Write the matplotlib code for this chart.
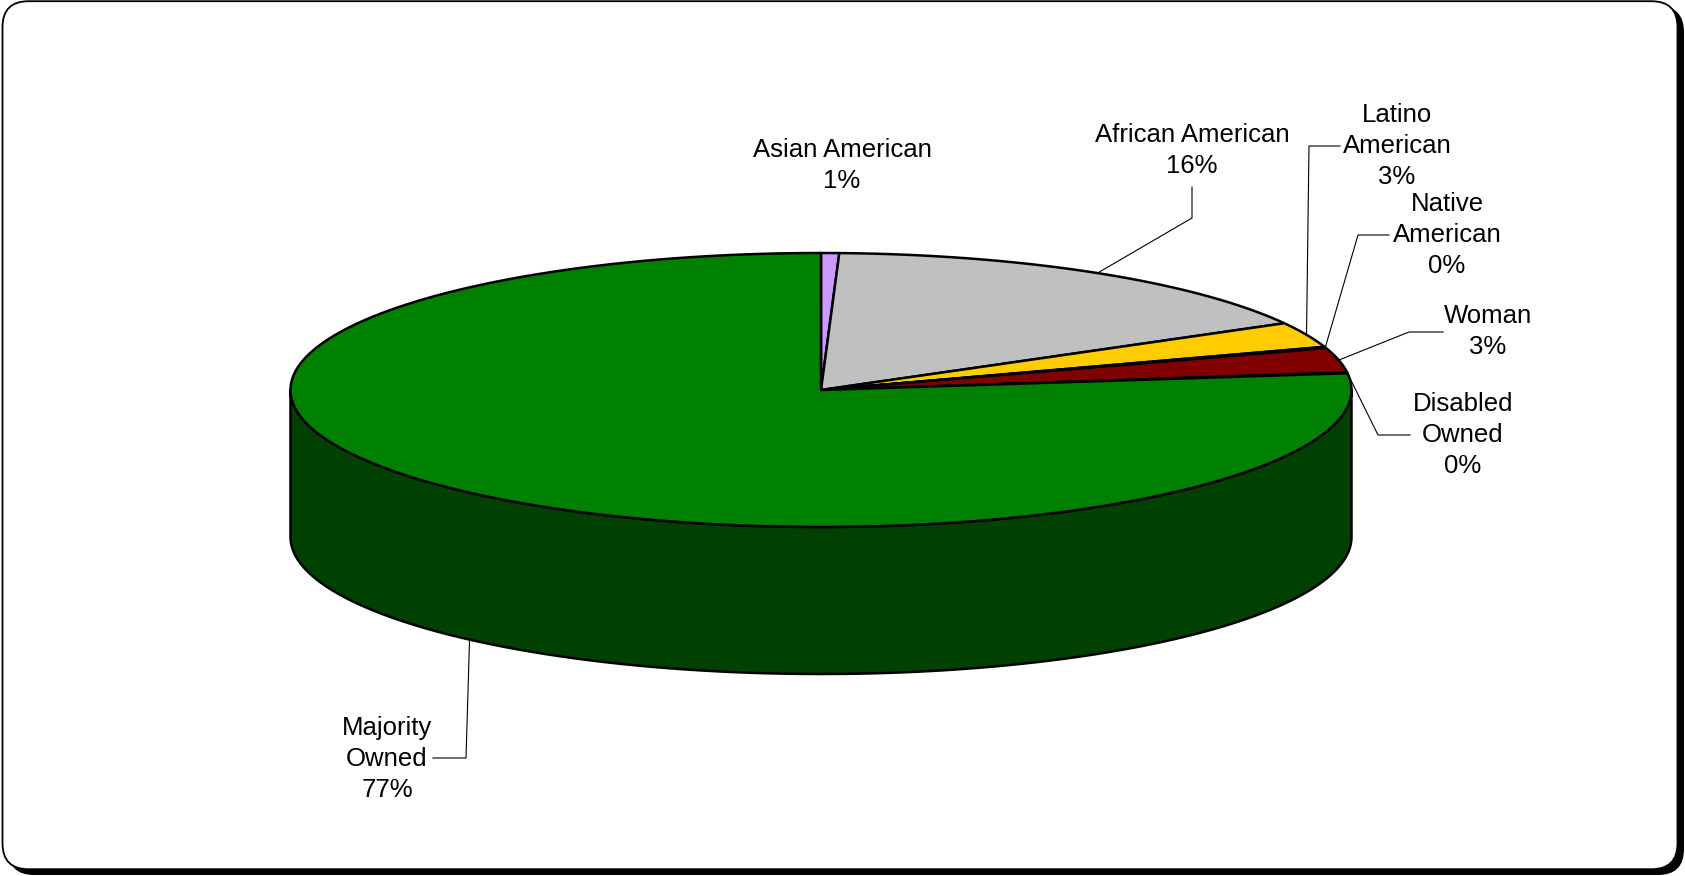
import numpy as np
import matplotlib.pyplot as plt
from matplotlib.patches import Polygon, FancyBboxPatch

# data
categories = ['Asian American', 'African American', 'Latino\nAmerican', 'Native\nAmerican',
              'Woman', 'Disabled\nOwned', 'Majority\nOwned']
shares = [0.55, 16.35, 3.0, 0.15, 2.9, 0.1, 76.95]
colors = ['#CC99FF', '#C0C0C0', '#FFCC00', '#CCFFFF', '#800000', '#0066CC', '#008000']

# layout (pixel coords, y down)
label_xy = [(842, 157), (1192, 142), (1397, 122), (1447, 211), (1488, 323), (1463, 411), (387, 735)]
elbows = [None,
          [(1192, 218), (1192, 187)],
          [(1309, 146), (1340, 146)],
          [(1358, 235), (1389, 235)],
          [(1409, 332), (1443, 332)],
          [(1378, 435), (1410, 435)],
          [(466, 758), (433, 758)]]
line_step = 31

W, H = 1685, 876
cx, cy, rx, ry, depth = 821, 390, 530.5, 137, 147

fig = plt.figure(figsize=(W / 100, H / 100), dpi=100)
ax = fig.add_axes([0, 0, 1, 1])
ax.set_xlim(0, W)
ax.set_ylim(H, 0)
ax.axis('off')

# frame with shadow
ax.add_patch(FancyBboxPatch((8, 6), W - 9, H - 7, boxstyle='round,pad=0,rounding_size=26',
                            facecolor='black', edgecolor='none', zorder=0))
ax.add_patch(FancyBboxPatch((2.5, 1.2), 1675, 868, boxstyle='round,pad=0,rounding_size=26',
                            facecolor='white', edgecolor='black', lw=1.3, zorder=1))


def rim(theta, drop=0.0):
    t = np.radians(theta)
    return np.column_stack([cx + rx * np.sin(t), cy - ry * np.cos(t) + drop])


def darker(c, f=0.5):
    r, g, b = [int(c[i:i + 2], 16) for i in (1, 3, 5)]
    return '#%02x%02x%02x' % (int(r * f), int(g * f), int(b * f))


bounds = np.concatenate([[0], np.cumsum(shares)]) / sum(shares) * 360

# side walls (front half only)
for i, c in enumerate(colors):
    a, b = max(bounds[i], 90), min(bounds[i + 1], 270)
    if b > a:
        th = np.linspace(a, b, 300)
        pts = np.vstack([rim(th), rim(th[::-1], depth)])
        ax.add_patch(Polygon(pts, closed=True, facecolor=darker(c), edgecolor='black',
                             lw=1.8, joinstyle='round', zorder=2))

# top faces
for i, c in enumerate(colors):
    th = np.linspace(bounds[i], bounds[i + 1], max(3, int((bounds[i + 1] - bounds[i]) * 3)))
    pts = np.vstack([[cx, cy], rim(th)])
    ax.add_patch(Polygon(pts, closed=True, facecolor=c, edgecolor='black',
                         lw=1.8, joinstyle='round', zorder=3))

# labels and leader lines
for i, cat in enumerate(categories):
    lines = cat.split('\n') + ['%.0f%%' % shares[i]]
    x0, y0 = label_xy[i]
    for k, ln in enumerate(lines):
        ax.text(x0, y0 + k * line_step, ln, ha='center', va='baseline',
                fontsize=18.5, family='Liberation Sans', zorder=5)
    if elbows[i] is not None:
        mid = (bounds[i] + bounds[i + 1]) / 2
        drop = depth if 90 < mid < 270 else 0
        start = rim(np.array([mid]), drop)[0]
        path = np.vstack([start, elbows[i]])
        ax.plot(path[:, 0], path[:, 1], color='black', lw=0.8, zorder=4)

fig.savefig('out.png', dpi=100)
